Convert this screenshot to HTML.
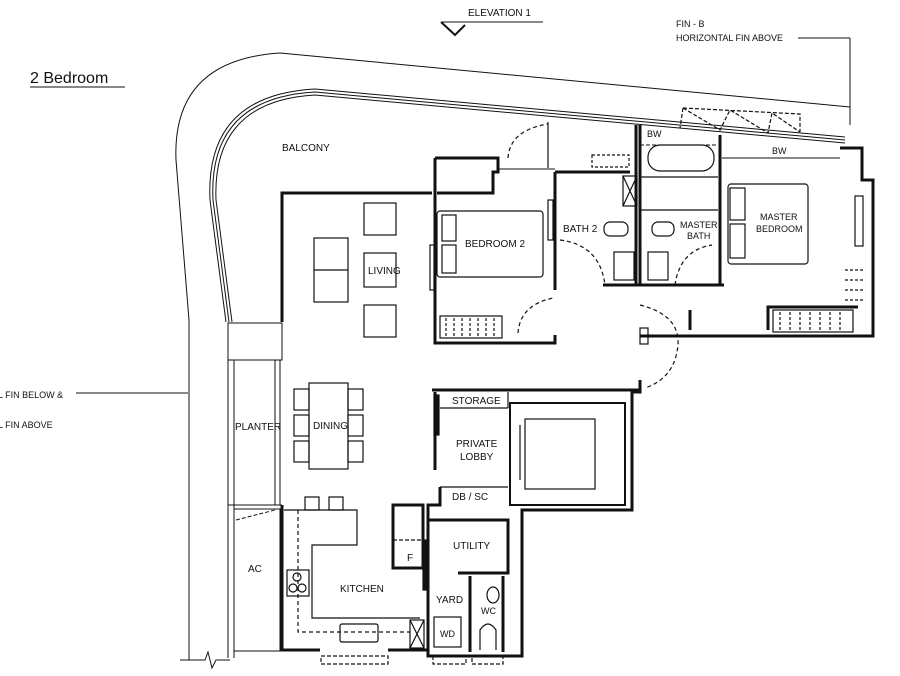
<!DOCTYPE html>
<html><head><meta charset="utf-8"><style>
html,body{margin:0;padding:0;background:#fff;width:900px;height:676px;overflow:hidden}
svg{display:block}
text{font-family:"Liberation Sans",sans-serif;fill:#111}
</style></head><body>
<svg width="900" height="676" viewBox="0 0 900 676" xmlns="http://www.w3.org/2000/svg">
<g fill="none" stroke="#111" stroke-width="1">
<text x="30" y="83" font-size="16" stroke="none">2 Bedroom</text>
<line x1="30" y1="87" x2="125" y2="87"/>
<text x="468" y="16" font-size="10" stroke="none">ELEVATION 1</text>
<line x1="441" y1="22" x2="543" y2="22"/>
<path d="M441 22 L455 35 L465 25" stroke-width="2"/>
<text x="676" y="27" font-size="9" stroke="none">FIN - B</text>
<text x="676" y="41" font-size="9" stroke="none">HORIZONTAL FIN ABOVE</text>
<line x1="798" y1="38" x2="850" y2="38"/><line x1="850" y1="38" x2="850" y2="125"/>
<text x="-2" y="398" font-size="9" stroke="none">L FIN BELOW &amp;</text>
<text x="-2" y="428" font-size="9" stroke="none">L FIN ABOVE</text>
<line x1="76" y1="393" x2="188" y2="393"/>
<path d="M189 660 L189 320 L176 160 Q172 60 280 53 L850 107"/>
<path d="M180 660 L205 660 L208 652 L212 668 L216 660 L230 660"/>
<path d="M226 322 L210 200 Q205 95 315 89 L845 137"/>
<path d="M229 322 L213 200 Q208 98 315 92 L845 140"/>
<path d="M232 322 L216 200 Q212 101 315 95 L845 143"/>
<rect x="228" y="323" width="54" height="37"/>
<path d="M228 360 L228 658 M234 360 L234 658 M275 360 L275 505 M280 360 L280 505"/>
<line x1="228" y1="505" x2="282" y2="505"/>
<rect x="234" y="509" width="46" height="142"/>
<line x1="236" y1="520" x2="275" y2="510" stroke-dasharray="4 2"/>
<text x="235" y="430" font-size="10" stroke="none">PLANTER</text>
<text x="248" y="572" font-size="10" stroke="none">AC</text>
<line x1="498" y1="169" x2="555" y2="169"/>
<line x1="722" y1="158" x2="840" y2="158"/>
<line x1="640" y1="145" x2="718" y2="145" stroke-dasharray="4 2"/>
</g>
<g fill="none" stroke="#111" stroke-width="3">
<path d="M282 322 L282 193 L432 193"/>
<path d="M282 505 L282 650 L320 650 M388 650 L428 650 L428 656 L522 656 L522 510 L632 510 L632 392 L640 392 L640 380"/>
<path d="M435 158 L498 158 L498 172 L493 172 L493 193 L437 193"/>
<path d="M435 158 L435 343 L555 343 L555 335"/>
<path d="M555 172 L555 290 M555 172 L630 172"/>
<path d="M636 125 L636 285 M640 125 L640 285 M720 135 L720 285"/>
<path d="M603 285 L724 285"/>
<path d="M640 336 L873 336 L873 180 L862 180 L862 148 L840 148"/>
<path d="M690 330 L690 310 M768 330 L768 307 L858 307"/>
<path d="M432 390 L640 390"/>
<path d="M435 392 L435 470"/>
<path d="M440 487 L440 505 L428 505 L428 656"/>
<path d="M393 505 L423 505 L423 568 L393 568 Z"/>
<path d="M428 520 L508 520 L508 573 L458 573"/>
<path d="M470 576 L470 652 M503 576 L503 652"/>
</g>
<g fill="none" stroke="#111" stroke-width="1.2">
<rect x="314" y="238" width="34" height="64"/><line x1="314" y1="270" x2="348" y2="270"/>
<rect x="364" y="203" width="32" height="32"/><rect x="364" y="253" width="32" height="34"/><rect x="364" y="305" width="32" height="32"/>
<text x="368" y="274" font-size="10" stroke="none">LIVING</text>
<text x="282" y="151" font-size="10" stroke="none">BALCONY</text>
<rect x="309" y="383" width="39" height="86"/>
<rect x="294" y="389" width="15" height="21"/><rect x="294" y="415" width="15" height="21"/><rect x="294" y="441" width="15" height="21"/>
<rect x="348" y="389" width="15" height="21"/><rect x="348" y="415" width="15" height="21"/><rect x="348" y="441" width="15" height="21"/>
<text x="313" y="429" font-size="10" stroke="none">DINING</text>
<rect x="437" y="211" width="106" height="66" rx="3"/>
<rect x="442" y="215" width="14" height="26"/><rect x="442" y="245" width="14" height="28"/>
<text x="465" y="247" font-size="10" stroke="none">BEDROOM 2</text>
<rect x="440" y="316" width="62" height="22"/>
<path d="M446 318v18M454 318v18M462 318v18M470 318v18M478 318v18M486 318v18M494 318v18" stroke-dasharray="3 2"/>
<path d="M518 333 Q520 305 553 298" stroke-dasharray="4 3"/>
<path d="M508 158 Q510 130 548 124" stroke-dasharray="4 3"/><line x1="548" y1="122" x2="548" y2="168"/>
<rect x="430" y="245" width="4" height="45"/><rect x="548" y="200" width="5" height="40"/>
<text x="563" y="232" font-size="10" stroke="none">BATH 2</text>
<rect x="604" y="222" width="24" height="14" rx="6"/><rect x="614" y="252" width="20" height="28"/>
<rect x="623" y="176" width="14" height="30"/><path d="M623 176L637 206M637 176L623 206"/>
<path d="M560 240 Q600 245 605 285" stroke-dasharray="4 3"/>
<rect x="592" y="155" width="37" height="12" stroke-dasharray="3 2"/>
<rect x="648" y="145" width="66" height="26" rx="12"/>
<line x1="640" y1="177" x2="718" y2="177"/><line x1="640" y1="210" x2="718" y2="210"/>
<rect x="652" y="222" width="22" height="14" rx="6"/><rect x="648" y="252" width="20" height="28"/>
<text x="680" y="228" font-size="9" stroke="none">MASTER</text><text x="687" y="239" font-size="9" stroke="none">BATH</text>
<path d="M675 285 Q680 250 712 245" stroke-dasharray="4 3"/>
<text x="647" y="137" font-size="9" stroke="none">BW</text>
<text x="772" y="154" font-size="9" stroke="none">BW</text>
<path d="M683 108 L800 114 L800 132 M683 108 L680 128 M683 108 L720 130 L730 110 L768 133 L772 113 L800 132" stroke-dasharray="4 2"/>
<rect x="728" y="184" width="80" height="80" rx="3"/>
<rect x="730" y="188" width="15" height="32"/><rect x="730" y="224" width="15" height="34"/>
<text x="760" y="220" font-size="9" stroke="none">MASTER</text><text x="756" y="232" font-size="9" stroke="none">BEDROOM</text>
<rect x="855" y="196" width="8" height="50"/>
<rect x="773" y="310" width="80" height="22"/>
<path d="M780 312v18M790 312v18M800 312v18M810 312v18M820 312v18M830 312v18M840 312v18" stroke-dasharray="3 2"/>
<path d="M845 270h20M845 280h20M845 290h20M845 300h20" stroke-dasharray="3 2"/>
<path d="M640 305 Q680 315 678 345 Q675 378 645 388" stroke-dasharray="4 3"/>
<rect x="640" y="328" width="8" height="16"/>
<line x1="440" y1="408" x2="508" y2="408"/><line x1="508" y1="392" x2="508" y2="408"/>
<text x="452" y="404" font-size="10" stroke="none">STORAGE</text>
<text x="456" y="447" font-size="10" stroke="none">PRIVATE</text><text x="460" y="460" font-size="10" stroke="none">LOBBY</text>
<rect x="434" y="395" width="5" height="40" fill="#111"/>
<line x1="440" y1="487" x2="508" y2="487"/>
<text x="452" y="500" font-size="10" stroke="none">DB / SC</text>
<rect x="510" y="403" width="115" height="102" stroke-width="2"/>
<rect x="525" y="419" width="70" height="70"/>
<line x1="520" y1="425" x2="520" y2="480"/>
<path d="M284 510 L357 510 L357 545 L312 545 L312 618 L420 618"/>
<path d="M298 510 L298 632 L410 632" stroke-dasharray="4 3"/>
<rect x="305" y="497" width="14" height="13"/><rect x="329" y="497" width="14" height="13"/>
<rect x="287" y="570" width="22" height="26"/><circle cx="297" cy="577" r="4"/><circle cx="293" cy="588" r="4"/><circle cx="302" cy="588" r="4"/>
<rect x="340" y="624" width="38" height="18" rx="2"/>
<text x="340" y="592" font-size="10" stroke="none">KITCHEN</text>
<line x1="393" y1="540" x2="423" y2="540" stroke-dasharray="4 2"/>
<text x="407" y="561" font-size="10" stroke="none">F</text>
<rect x="423" y="540" width="5" height="50" fill="#111"/>
<text x="453" y="549" font-size="10" stroke="none">UTILITY</text>
<rect x="410" y="620" width="14" height="28"/><path d="M410 620L424 648M424 620L410 648"/>
<text x="436" y="603" font-size="10" stroke="none">YARD</text>
<rect x="434" y="617" width="27" height="30"/><text x="440" y="637" font-size="9" stroke="none">WD</text>
<text x="481" y="614" font-size="9" stroke="none">WC</text>
<ellipse cx="493" cy="595" rx="6" ry="8"/><path d="M480 650 L480 630 Q488 618 496 630 L496 650"/>
<path d="M321 656 L388 656 L388 664 L321 664 Z M433 656 L466 656 L466 664 L433 664 Z M472 656 L503 656 L503 664 L472 664 Z" stroke-dasharray="4 2"/>
</g>
</svg>
</body></html>
